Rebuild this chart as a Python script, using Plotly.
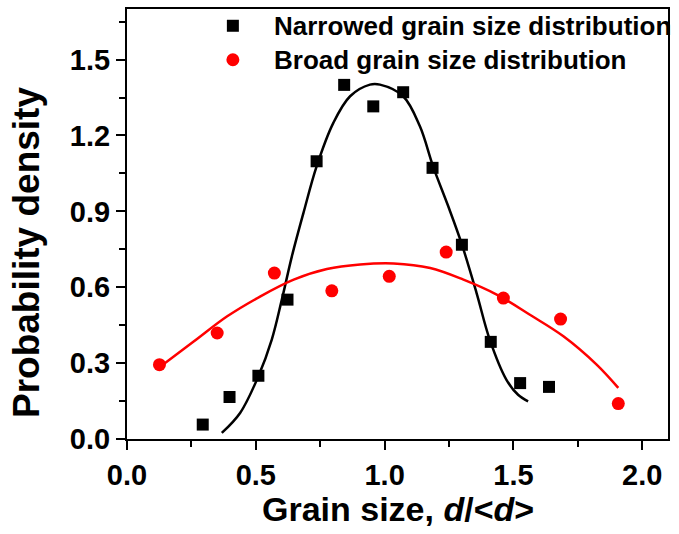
import plotly.graph_objects as go

# Measured data points
narrow_x = [0.294, 0.398, 0.510, 0.623, 0.736, 0.843, 0.956, 1.072, 1.186, 1.300, 1.412, 1.526, 1.638]
narrow_y = [0.057, 0.166, 0.250, 0.551, 1.098, 1.400, 1.315, 1.371, 1.072, 0.768, 0.384, 0.221, 0.206]

broad_x = [0.126, 0.350, 0.572, 0.795, 1.018, 1.239, 1.461, 1.683, 1.907]
broad_y = [0.294, 0.419, 0.656, 0.586, 0.643, 0.739, 0.557, 0.474, 0.140]

# Fit curves
narrow_fit_x = [0.368, 0.439, 0.510, 0.562, 0.601, 0.640, 0.685, 0.736, 0.801, 0.866, 0.943,
                0.982, 1.072, 1.137, 1.188, 1.247, 1.298, 1.357, 1.408, 1.473, 1.518, 1.557]
narrow_fit_y = [0.024, 0.103, 0.248, 0.393, 0.551, 0.722, 0.894, 1.078, 1.250, 1.355, 1.401,
                1.401, 1.355, 1.236, 1.078, 0.920, 0.775, 0.577, 0.393, 0.234, 0.175, 0.149]

broad_fit_x = [0.130, 0.260, 0.389, 0.518, 0.647, 0.776, 0.905, 1.035, 1.177, 1.306, 1.435,
               1.564, 1.694, 1.823, 1.907]
broad_fit_y = [0.287, 0.386, 0.485, 0.564, 0.630, 0.672, 0.690, 0.694, 0.676, 0.630, 0.571,
               0.491, 0.406, 0.294, 0.202]

x_ticks = [0.0, 0.5, 1.0, 1.5, 2.0]
x_labels = ["0.0", "0.5", "1.0", "1.5", "2.0"]
y_ticks = [0.0, 0.3, 0.6, 0.9, 1.2, 1.5]
y_labels = ["0.0", "0.3", "0.6", "0.9", "1.2", "1.5"]

series_names = ["Narrowed grain size distribution", "Broad grain size distribution"]

FONT = "Liberation Sans, Arial, sans-serif"
BLACK = "black"
RED = "#ff0000"

fig = go.Figure()
fig.add_trace(go.Scatter(x=narrow_fit_x, y=narrow_fit_y, mode="lines",
                         line=dict(color=BLACK, width=2.5, shape="spline", smoothing=1.0),
                         showlegend=False, hoverinfo="skip"))
fig.add_trace(go.Scatter(x=broad_fit_x, y=broad_fit_y, mode="lines",
                         line=dict(color=RED, width=2.5, shape="spline", smoothing=1.0),
                         showlegend=False, hoverinfo="skip"))
fig.add_trace(go.Scatter(x=narrow_x, y=narrow_y, mode="markers", name=series_names[0], showlegend=False,
                         marker=dict(symbol="square", size=12, color=BLACK)))
fig.add_trace(go.Scatter(x=broad_x, y=broad_y, mode="markers", name=series_names[1], showlegend=False,
                         marker=dict(symbol="circle", size=13, color=RED)))

axis_common = dict(showgrid=False, zeroline=False, showline=True, linecolor="black", linewidth=2, mirror=True,
                   ticks="outside", tickwidth=2, tickcolor="black", ticklen=9, automargin=False,
                   tickfont=dict(family=FONT, size=29, color="black", weight="bold"))

fig.update_xaxes(range=[0, 2.1], tickvals=x_ticks, ticktext=x_labels,
                 minor=dict(dtick=0.25, tick0=0, ticks="outside", ticklen=6, tickwidth=2, tickcolor="black"),
                 **axis_common)
fig.update_yaxes(range=[0, 1.7], tickvals=y_ticks, ticktext=y_labels,
                 minor=dict(dtick=0.15, tick0=0, ticks="outside", ticklen=6, tickwidth=2, tickcolor="black"),
                 **axis_common)

# Axis titles
fig.add_annotation(text="Grain size, <i>d</i>/&lt;<i>d</i>&gt;", xref="paper", yref="paper", x=0.5, y=0,
                   xanchor="center", yanchor="middle", yshift=-70, showarrow=False,
                   font=dict(family=FONT, size=34, color="black", weight="bold"))
fig.add_annotation(text="Probability density", xref="paper", yref="paper", x=0, y=0.5,
                   xanchor="center", yanchor="middle", xshift=-101, yshift=-29, textangle=-90, showarrow=False,
                   font=dict(family=FONT, size=37, color="black", weight="bold"))

# Legend (drawn manually to keep plot area fixed)
leg_x = 0.1957
leg_text_x = 0.270
leg_y = [0.961, 0.882]
fig.add_shape(type="rect", xref="paper", yref="paper", xsizemode="pixel", ysizemode="pixel",
              xanchor=leg_x, yanchor=leg_y[0], x0=-6, x1=6, y0=-6, y1=6,
              fillcolor=BLACK, line=dict(width=0))
fig.add_shape(type="circle", xref="paper", yref="paper", xsizemode="pixel", ysizemode="pixel",
              xanchor=leg_x, yanchor=leg_y[1], x0=-6.5, x1=6.5, y0=-6.5, y1=6.5,
              fillcolor=RED, line=dict(width=0))
for name, yy in zip(series_names, leg_y):
    fig.add_annotation(text=name, xref="paper", yref="paper", x=leg_text_x, y=yy,
                       xanchor="left", yanchor="middle", showarrow=False, borderpad=0,
                       font=dict(family=FONT, size=26, color="black", weight="bold"))

fig.update_layout(
    width=679, height=534,
    margin=dict(l=127, r=11, t=9, b=95, autoexpand=False),
    paper_bgcolor="white", plot_bgcolor="white",
    showlegend=False,
)

fig.write_html("out.html", config={"displayModeBar": False},
               post_script="document.body.style.margin='0';document.body.style.overflow='hidden';")
